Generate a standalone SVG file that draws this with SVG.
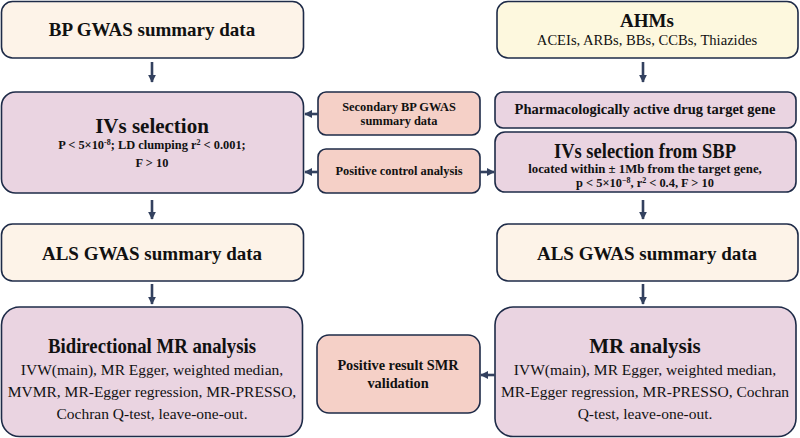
<svg xmlns="http://www.w3.org/2000/svg" width="800" height="438" viewBox="0 0 800 438">
<defs>
<marker id="ah" viewBox="0 0 10 10" refX="9" refY="5" markerWidth="3" markerHeight="3" orient="auto-start-reverse" markerUnits="strokeWidth">
<path d="M0,0 L10,5 L0,10 z" fill="#33415f"/>
</marker>
<style>
.box{stroke:#1e2b48;stroke-width:1.6}
.cream{fill:#fdf3e8}
.yel{fill:#fdf8de}
.pink{fill:#ead4e1}
.sal{fill:#f5d0c7}
.lbl-head,.lbl-big,.lbl-small,.lbl-mid,.lbl-mid2,.lbl-body{font-family:"Liberation Serif","Times New Roman",serif;fill:#111;text-anchor:middle}
.lbl-head{font-weight:bold;font-size:19px}
.lbl-big{font-weight:bold;font-size:21px}
.lbl-small{font-weight:bold;font-size:12.4px}
.lbl-mid{font-weight:bold;font-size:14.5px}
.lbl-mid2{font-weight:bold;font-size:14.3px}
.lbl-body{font-weight:normal;font-size:15.5px}
.conn{stroke:#33415f;stroke-width:2.6;fill:none;marker-end:url(#ah)}
</style>
</defs>
<g id="bp-gwas"><rect class="box cream" x="1.5" y="1.5" width="302" height="56.5" rx="11"/><text class="lbl-head" x="152" y="36">BP GWAS summary data</text></g>
<g id="ahms"><rect class="box yel" x="497" y="1.5" width="301" height="56.5" rx="11"/><text class="lbl-head" x="647" y="27">AHMs</text><text class="lbl-body" x="647" y="45" style="font-size:14.6px">ACEIs, ARBs, BBs, CCBs, Thiazides</text></g>
<g id="ivs-selection"><rect class="box pink" x="1.5" y="92" width="302" height="101" rx="14"/><text class="lbl-big" x="152" y="133">IVs selection</text><text class="lbl-small" x="152" y="149">P &lt; 5×10<tspan dy="-4" font-size="8">-8</tspan><tspan dy="4">; LD clumping r</tspan><tspan dy="-4" font-size="8">2</tspan><tspan dy="4"> &lt; 0.001;</tspan></text><text class="lbl-small" x="152" y="167">F &gt; 10</text></g>
<g id="secondary-bp"><rect class="box sal" x="318" y="92" width="162" height="43" rx="8"/><text class="lbl-small" x="399" y="111">Secondary BP GWAS</text><text class="lbl-small" x="399" y="125">summary data</text></g>
<g id="positive-control"><rect class="box sal" x="318" y="149" width="162" height="44" rx="8"/><text class="lbl-small" x="399" y="175">Positive control analysis</text></g>
<g id="pharma"><rect class="box pink" x="495" y="92" width="301" height="36" rx="8"/><text class="lbl-mid" x="645" y="114">Pharmacologically active drug target gene</text></g>
<g id="ivs-sbp"><rect class="box pink" x="495" y="132" width="301" height="60" rx="10"/><text class="lbl-big" x="645" y="158" textLength="182" lengthAdjust="spacingAndGlyphs">IVs selection from SBP</text><text class="lbl-small" x="645" y="173" style="font-size:12.8px">located within ± 1Mb from the target gene,</text><text class="lbl-small" x="645" y="187">p &lt; 5×10<tspan dy="-4" font-size="8">−8</tspan><tspan dy="4">, r</tspan><tspan dy="-4" font-size="8">2</tspan><tspan dy="4"> &lt; 0.4, F &gt; 10</tspan></text></g>
<g id="als-left"><rect class="box cream" x="1.5" y="224" width="302" height="57" rx="11"/><text class="lbl-head" x="152" y="260">ALS GWAS summary data</text></g>
<g id="als-right"><rect class="box cream" x="497" y="224" width="301" height="57" rx="11"/><text class="lbl-head" x="647" y="260">ALS GWAS summary data</text></g>
<g id="bidirectional-mr"><rect class="box pink" x="1.5" y="307" width="301" height="129.5" rx="18"/><text class="lbl-big" x="152" y="353" textLength="208" lengthAdjust="spacingAndGlyphs">Bidirectional MR analysis</text><text class="lbl-body" x="152" y="375">IVW(main), MR Egger, weighted median,</text><text class="lbl-body" x="152" y="397">MVMR, MR-Egger regression, MR-PRESSO,</text><text class="lbl-body" x="152" y="419">Cochran Q-test, leave-one-out.</text></g>
<g id="smr"><rect class="box sal" x="317" y="335" width="163" height="78" rx="12"/><text class="lbl-mid2" x="398" y="370">Positive result SMR</text><text class="lbl-mid2" x="398" y="388">validation</text></g>
<g id="mr-analysis"><rect class="box pink" x="495" y="307" width="301" height="129.5" rx="18"/><text class="lbl-big" x="645" y="353">MR analysis</text><text class="lbl-body" x="645" y="375">IVW(main), MR Egger, weighted median,</text><text class="lbl-body" x="645" y="397">MR-Egger regression, MR-PRESSO, Cochran</text><text class="lbl-body" x="645" y="419">Q-test, leave-one-out.</text></g>
<g id="connectors">
<line class="conn" x1="152" y1="62" x2="152" y2="82"/>
<line class="conn" x1="643" y1="62" x2="643" y2="82"/>
<line class="conn" x1="152" y1="200" x2="152" y2="219"/>
<line class="conn" x1="643" y1="200" x2="643" y2="219"/>
<line class="conn" x1="152" y1="284" x2="152" y2="304"/>
<line class="conn" x1="643" y1="284" x2="643" y2="304"/>
<line class="conn" x1="318" y1="114" x2="305" y2="114"/>
<line class="conn" x1="318" y1="172" x2="305" y2="172"/>
<line class="conn" x1="480" y1="172" x2="494" y2="172"/>
<line class="conn" x1="495" y1="375" x2="481" y2="375"/>
</g>
</svg>
